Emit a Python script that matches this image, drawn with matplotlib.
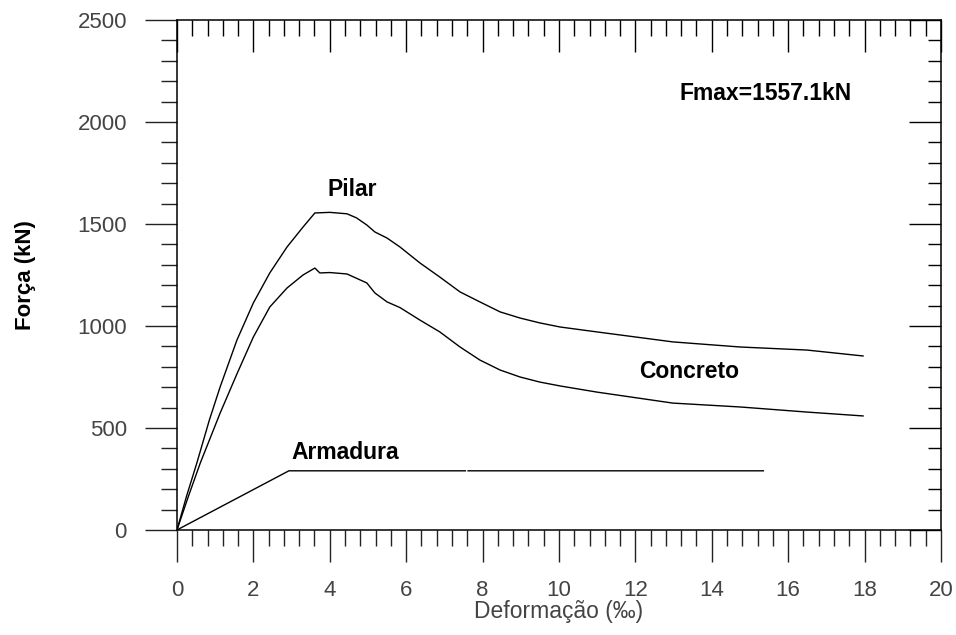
import numpy as np
import matplotlib.pyplot as plt
from matplotlib.ticker import MultipleLocator

# curves (deformation in per mille, force in kN)
pilar_x = [0, 0.25, 0.52, 0.85, 1.13, 1.57, 2.0, 2.43, 2.88, 3.30, 3.61, 4.0, 4.45,
           4.7, 4.97, 5.18, 5.50, 5.84, 6.36, 6.88, 7.41, 7.93, 8.46, 8.98, 9.50,
           10.03, 10.99, 12.98, 14.74, 16.49, 17.96]
pilar_y = [0, 165, 328, 540, 701, 931, 1113, 1260, 1387, 1485, 1554, 1557, 1550,
           1530, 1495, 1461, 1431, 1387, 1309, 1240, 1167, 1118, 1069, 1039, 1015,
           995, 971, 922, 897, 882, 853]

conc_x = [0, 0.3, 0.61, 1.13, 1.57, 2.0, 2.43, 2.88, 3.30, 3.61, 3.74, 4.0, 4.45,
          4.97, 5.18, 5.50, 5.84, 6.36, 6.88, 7.41, 7.93, 8.46, 8.98, 9.50, 10.03,
          10.99, 12.98, 14.74, 16.49, 17.96]
conc_y = [0, 165, 328, 573, 765, 946, 1093, 1186, 1250, 1284, 1260, 1262, 1255,
          1211, 1162, 1118, 1090, 1029, 971, 897, 833, 784, 750, 725, 706,
          676, 622, 603, 578, 559]

arm_x = [0, 2.93, 7.55, np.nan, 7.62, 15.35]
arm_y = [0, 290, 290, np.nan, 290, 290]

fmax = 1557.1

plt.rcParams['font.family'] = ['Liberation Sans', 'DejaVu Sans']

fig = plt.figure(figsize=(9.56, 6.35), dpi=100)
ax = fig.add_axes([0.1851, 0.1654, 0.7992, 0.8031])

ax.plot(pilar_x, pilar_y, color='black', lw=1.0)
ax.plot(conc_x, conc_y, color='black', lw=1.0)
ax.plot(arm_x, arm_y, color='black', lw=1.0)

ax.set_xlim(0, 20)
ax.set_ylim(0, 2500)
ax.xaxis.set_major_locator(MultipleLocator(2))
ax.xaxis.set_minor_locator(MultipleLocator(0.4))
ax.yaxis.set_major_locator(MultipleLocator(500))
ax.yaxis.set_minor_locator(MultipleLocator(100))

# all ticks point down / left like the original
ax.tick_params(which='both', bottom=True, left=True, top=False, right=False,
               direction='out', width=1.0, color='#222222',
               labelsize=16, labelcolor='#444444', pad=13)
ax.tick_params(which='major', length=23)
ax.tick_params(which='minor', length=11.5)

sec_x = ax.secondary_xaxis('top')
sec_x.xaxis.set_major_locator(MultipleLocator(2))
sec_x.xaxis.set_minor_locator(MultipleLocator(0.4))
sec_x.tick_params(which='both', direction='in', width=1.0, labeltop=False)
sec_x.tick_params(which='major', length=23)
sec_x.tick_params(which='minor', length=11.5)
sec_x.spines['top'].set_visible(False)

sec_y = ax.secondary_yaxis('right')
sec_y.yaxis.set_major_locator(MultipleLocator(500))
sec_y.yaxis.set_minor_locator(MultipleLocator(100))
sec_y.tick_params(which='both', direction='in', width=1.0, labelright=False)
sec_y.tick_params(which='major', length=23)
sec_y.tick_params(which='minor', length=9.5)
sec_y.spines['right'].set_visible(False)

for s in ax.spines.values():
    s.set_linewidth(1.1)

ax.set_xlabel('Deformação (‰)', fontsize=16.5, color='#444444', labelpad=-1)
ax.set_ylabel('Força (kN)', fontsize=16, fontweight='bold', labelpad=30)

ax.text(4.58, 1670, 'Pilar', fontsize=16.5, fontweight='bold', ha='center', va='center')
ax.text(13.4, 775, 'Concreto', fontsize=16.5, fontweight='bold', ha='center', va='center')
ax.text(4.4, 382, 'Armadura', fontsize=16.5, fontweight='bold', ha='center', va='center')
ax.text(15.4, 2142, f'Fmax={fmax}kN', fontsize=16.5, fontweight='bold', ha='center', va='center')

fig.savefig('out.png', dpi=100)
